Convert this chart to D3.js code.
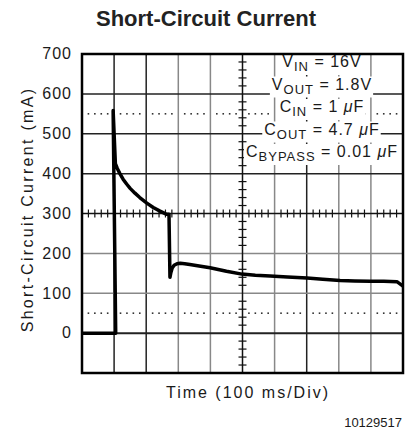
<!DOCTYPE html>
<html>
<head>
<meta charset="utf-8">
<script src="https://cdn.jsdelivr.net/npm/d3@7"></script>
<style>
  body { margin: 0; background: #fff; }
  text { font-family: "Liberation Sans", Arial, sans-serif; fill: #1a1a1a; }
</style>
</head>
<body>
<svg id="chart" width="406" height="434"></svg>
<script>
// scope trace: time in ms, current in mA
const timeMs    = [0, 105, 97, 104, 110, 118, 128, 139, 150, 165, 180, 202, 222, 243, 264, 271, 274, 277, 281, 287, 296, 306, 320, 336, 360, 399, 450, 498, 540, 586, 640, 701, 750, 804, 850, 897, 940, 981, 1000];
const currentMa = [0, 0, 558, 425, 413, 400, 386, 374, 363, 351, 340, 326, 315, 306, 298, 298, 140, 152, 163, 170, 174, 175, 174, 172, 169, 164, 155, 148, 145, 143, 141, 138, 135, 132, 131, 130, 130, 129, 118];

const yTicks = [0, 100, 200, 300, 400, 500, 600, 700];
const dottedLevels = [550, 50];

// test conditions box: symbol, subscript, value, unit
const condSymbols = ['V', 'V', 'C', 'C', 'C'];
const condSubs    = ['IN', 'OUT', 'IN', 'OUT', 'BYPASS'];
const condValues  = [' = 16V', ' = 1.8V', ' = 1 ', ' = 4.7 ', ' = 0.01 '];
const condUnits   = ['', '', 'F', 'F', 'F'];

const titleText = 'Short-Circuit Current';
const yTitle = 'Short-Circuit Current (mA)';
const xTitle = 'Time (100 ms/Div)';
const figId = '10129517';

//Plot frame
let plotL = 82, plotR = 403, plotT = 54, plotB = 373;

let svg = d3.select('#chart');

//Scales
let x = d3.scaleLinear().domain([0, 1000]).range([plotL, plotR]);
let y = d3.scaleLinear().domain([-100, 700]).range([plotB, plotT]);

//Title
svg.append('text')
  .attr('x', 206).attr('y', 26)
  .attr('text-anchor', 'middle')
  .style('font-size', '22px').style('font-weight', 'bold')
  .style('fill', '#222')
  .text(titleText);

//Grid lines (scan shows a mix of dark and light lines)
let darkV = [100, 200, 700];
let vLines = d3.range(100, 1000, 100).filter(t => t !== 500);
svg.append('g').selectAll('line')
  .data(vLines).enter().append('line')
    .attr('x1', d => x(d)).attr('x2', d => x(d))
    .attr('y1', plotT).attr('y2', plotB)
    .attr('stroke', d => darkV.includes(d) ? '#222' : '#888')
    .attr('stroke-width', 1.5);

let darkH = [600, 500, 400, 0];
let hLines = d3.range(0, 700, 100).filter(v => v !== 300);
svg.append('g').selectAll('line')
  .data(hLines).enter().append('line')
    .attr('x1', plotL).attr('x2', plotR)
    .attr('y1', d => y(d)).attr('y2', d => y(d))
    .attr('stroke', d => darkH.includes(d) ? '#222' : '#888')
    .attr('stroke-width', d => d === 0 ? 2 : 1.5);

//Dotted reference levels, four dots per division
let dots = [];
dottedLevels.forEach(level => {
  d3.range(0, 10).forEach(div => {
    d3.range(1, 5).forEach(k => dots.push({ t: div * 100 + k * 20, v: level }));
  });
});
svg.append('g').selectAll('rect')
  .data(dots).enter().append('rect')
    .attr('x', d => x(d.t) - 0.8).attr('y', d => y(d.v) - 0.8)
    .attr('width', 1.6).attr('height', 1.6)
    .attr('fill', '#333');

//Centre axes with minor ticks
let axes = svg.append('g').attr('stroke', '#111');
axes.append('line')
  .attr('x1', x(500)).attr('x2', x(500)).attr('y1', plotT).attr('y2', plotB)
  .attr('stroke-width', 1.5);
axes.append('line')
  .attr('x1', plotL).attr('x2', plotR).attr('y1', y(300)).attr('y2', y(300))
  .attr('stroke-width', 1.5);
axes.selectAll('.xminor')
  .data(d3.range(20, 1000, 20).filter(t => t % 100 !== 0)).enter().append('line')
    .attr('x1', d => x(d)).attr('x2', d => x(d))
    .attr('y1', y(300) - 4).attr('y2', y(300) + 4)
    .attr('stroke-width', 1.2);
axes.selectAll('.yminor')
  .data(d3.range(-80, 700, 20).filter(v => v % 100 !== 0)).enter().append('line')
    .attr('x1', x(500) - 4).attr('x2', x(500) + 4)
    .attr('y1', d => y(d)).attr('y2', d => y(d))
    .attr('stroke-width', 1.2);

//Conditions box
let cond = svg.append('g');
condSymbols.forEach((sym, i) => {
  let row = cond.append('g');
  let t = row.append('text')
    .attr('x', 322).attr('y', 67 + i * 22.5)
    .attr('text-anchor', 'middle')
    .style('font-size', '16px').style('letter-spacing', '1px');
  t.append('tspan').text(sym);
  t.append('tspan').attr('dy', 4).style('font-size', '13px').text(condSubs[i]);
  t.append('tspan').attr('dy', -4).text(condValues[i]);
  if (condUnits[i]) {
    t.append('tspan').style('font-style', 'italic').text('\u03bc');
    t.append('tspan').text(condUnits[i]);
  }
  let bb = t.node().getBBox();
  row.insert('rect', 'text')
    .attr('x', bb.x - 2).attr('y', bb.y + 1)
    .attr('width', bb.width + 3).attr('height', bb.height)
    .attr('fill', '#fff');
});

//Trace
let trace = timeMs.map((t, i) => ({ t: t, v: currentMa[i] }));
let line = d3.line()
  .x(d => x(d.t))
  .y(d => y(d.v));
svg.append('path')
  .datum(trace)
  .attr('d', line)
  .attr('fill', 'none')
  .attr('stroke', '#000')
  .attr('stroke-width', 3.5)
  .attr('stroke-linejoin', 'round');

//Frame
svg.append('rect')
  .attr('x', plotL).attr('y', plotT)
  .attr('width', plotR - plotL).attr('height', plotB - plotT)
  .attr('fill', 'none').attr('stroke', '#000').attr('stroke-width', 2.5);

//Y tick labels
svg.append('g').selectAll('text')
  .data(yTicks).enter().append('text')
    .attr('x', 72).attr('y', d => y(d))
    .attr('dy', '0.33em')
    .attr('text-anchor', 'end')
    .style('font-size', '16px').style('letter-spacing', '1px')
    .text(d => d);

//Axis titles
svg.append('text')
  .attr('transform', 'translate(33,' + ((plotT + plotB) / 2 - 4) + ') rotate(-90)')
  .attr('text-anchor', 'middle')
  .style('font-size', '16px').style('letter-spacing', '2.3px')
  .text(yTitle);

svg.append('text')
  .attr('x', 248).attr('y', 398)
  .attr('text-anchor', 'middle')
  .style('font-size', '16px').style('letter-spacing', '2px')
  .text(xTitle);

svg.append('text')
  .attr('x', 402).attr('y', 427)
  .attr('text-anchor', 'end')
  .style('font-size', '13px')
  .text(figId);
</script>
</body>
</html>
